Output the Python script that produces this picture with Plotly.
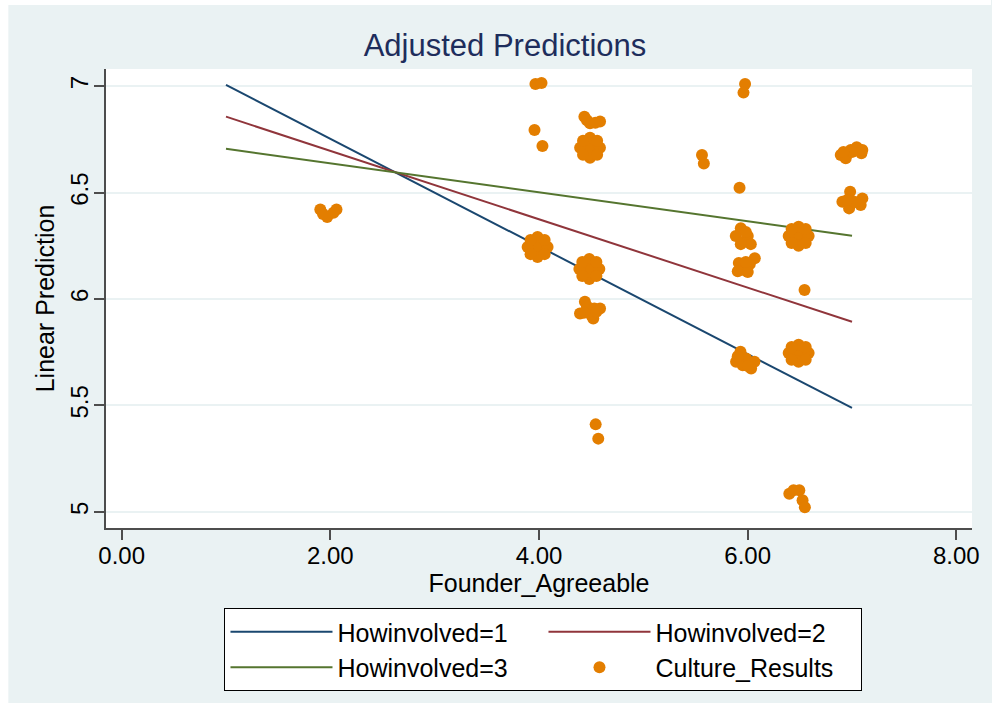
import plotly.graph_objects as go

# ---- data ----
line_x = [1.0, 7.0]
inv1_y = [7.006, 5.488]
inv2_y = [6.857, 5.893]
inv3_y = [6.706, 6.297]

culture_x = [
    # near 2.0
    1.904, 2.059, 1.970, 1.930, 2.030,
    # near 4.0 / 6.25
    3.986, 4.082, 3.891, 3.986, 3.986, 4.054, 3.919, 4.054, 3.919,
    # near 4.5 / 6.14
    4.482, 4.578, 4.387, 4.482, 4.482, 4.550, 4.415, 4.550, 4.415,
    # near 4.5 / 5.95
    4.440, 4.585, 4.393, 4.520, 4.482, 4.460, 4.530, 4.430, 4.500, 4.550,
    # top near 4.0
    3.966, 4.024,
    3.957,
    4.033,
    # near 4.5 / 6.84
    4.435, 4.489, 4.585, 4.460, 4.540,
    # near 4.5 / 6.71
    4.489, 4.584, 4.394, 4.489, 4.489, 4.557, 4.422, 4.557, 4.422,
    # near 4.55 / 5.4
    4.543, 4.568,
    # near 6.0 top
    5.975, 5.960,
    # near 5.57
    5.562, 5.580,
    5.922,
    # near 6.0 / 6.2-6.3
    5.934, 5.886, 6.001, 5.953, 6.030, 5.934, 5.982,
    6.068, 6.020, 5.915, 5.963, 5.905, 6.001, 5.982,
    # near 6.5 / 6.3
    6.488, 6.584, 6.393, 6.488, 6.488, 6.556, 6.421, 6.556, 6.421,
    6.545,
    # near 6.5 / 5.75
    6.488, 6.584, 6.393, 6.488, 6.488, 6.556, 6.421, 6.556, 6.421,
    # near 6.0 / 5.72
    5.931, 5.889, 5.985, 6.065, 6.033, 5.953, 5.905, 6.001,
    # near 6.5 / 5.05
    6.399, 6.495, 6.526, 6.548, 6.440,
    # near 7.0 / 6.69
    6.892, 6.940, 6.988, 7.045, 7.090, 7.099, 6.999, 6.918,
    # near 7.0 / 6.46
    6.982, 6.908, 7.004, 7.099, 7.083, 6.972, 7.030, 6.954,
]
culture_y = [
    6.421, 6.421, 6.386, 6.400, 6.405,
    6.244, 6.244, 6.244, 6.291, 6.197, 6.277, 6.277, 6.211, 6.211,
    6.141, 6.141, 6.141, 6.188, 6.094, 6.174, 6.174, 6.108, 6.108,
    5.987, 5.956, 5.932, 5.909, 5.948, 5.965, 5.955, 5.935, 5.925, 5.940,
    7.011, 7.015,
    6.794,
    6.719,
    6.857, 6.826, 6.834, 6.840, 6.828,
    6.711, 6.711, 6.711, 6.758, 6.664, 6.744, 6.744, 6.678, 6.678,
    5.411, 5.344,
    7.011, 6.970,
    6.677, 6.637,
    6.523,
    6.333, 6.296, 6.296, 6.268, 6.258, 6.258, 6.315,
    6.192, 6.164, 6.169, 6.136, 6.131, 6.127, 6.174,
    6.296, 6.296, 6.296, 6.340, 6.250, 6.329, 6.329, 6.263, 6.263,
    6.042,
    5.746, 5.746, 5.746, 5.785, 5.705, 5.775, 5.775, 5.715, 5.715,
    5.752, 5.705, 5.721, 5.705, 5.674, 5.689, 5.731, 5.685,
    5.085, 5.101, 5.054, 5.022, 5.101,
    6.677, 6.661, 6.700, 6.713, 6.685, 6.700, 6.691, 6.691,
    6.504, 6.457, 6.457, 6.473, 6.442, 6.426, 6.456, 6.465,
]

x_ticks = [0, 2, 4, 6, 8]
x_tick_text = ["0.00", "2.00", "4.00", "6.00", "8.00"]
y_ticks = [5, 5.5, 6, 6.5, 7]
y_tick_text = ["5", "5.5", "6", "6.5", "7"]

# ---- style ----
FONT = "Liberation Sans, Arial, sans-serif"
BG = "#EAF2F3"
NAVY = "#1A476F"
MAROON = "#90353B"
GREEN = "#55752F"
ORANGE = "#E37E00"
AXIS = "#4d4d4d"

fig = go.Figure()
fig.add_trace(go.Scatter(x=line_x, y=inv1_y, mode="lines", name="Howinvolved=1",
                         line=dict(color=NAVY, width=2)))
fig.add_trace(go.Scatter(x=line_x, y=inv2_y, mode="lines", name="Howinvolved=2",
                         line=dict(color=MAROON, width=2)))
fig.add_trace(go.Scatter(x=line_x, y=inv3_y, mode="lines", name="Howinvolved=3",
                         line=dict(color=GREEN, width=2)))
fig.add_trace(go.Scatter(x=culture_x, y=culture_y, mode="markers", name="Culture_Results",
                         marker=dict(color=ORANGE, size=12, line=dict(width=0))))

W, H = 992, 703
ml, mr, mt, mb = 106, 17, 69, 175
ph = H - mt - mb
pw = W - ml - mr

def px_to_paper_x(p):
    return (p - ml) / pw

def py_to_paper_y(p):
    return (H - mb - p) / ph

fig.update_layout(
    width=W, height=H,
    margin=dict(l=ml, r=mr, t=mt, b=mb, pad=0),
    paper_bgcolor=BG,
    plot_bgcolor="white",
    font=dict(family=FONT, size=24, color="black"),
    title=dict(text="Adjusted Predictions", x=505 / W, xanchor="center", xref="container",
               y=1 - 45 / H, yanchor="middle", yref="container",
               font=dict(family=FONT, size=31, color="#1E2D5C")),
    showlegend=True,
    legend=dict(orientation="h", x=px_to_paper_x(545), xanchor="center",
                y=py_to_paper_y(608), yanchor="top",
                bgcolor="white", bordercolor="black", borderwidth=1,
                font=dict(family=FONT, size=25, color="black"),
                entrywidth=201, entrywidthmode="pixels", itemwidth=102,
                traceorder="normal"),
    xaxis=dict(range=[-0.15, 8.15], tickmode="array", tickvals=x_ticks, ticktext=x_tick_text,
               showgrid=False, zeroline=False, showline=True, linecolor=AXIS, linewidth=1.5,
               ticks="outside", ticklen=10, tickwidth=1.5, tickcolor=AXIS,
               ticklabelstandoff=-5,
               tickfont=dict(family=FONT, size=24, color="black"),
               title=dict(text="Founder_Agreeable", standoff=6,
                          font=dict(family=FONT, size=25, color="black"))),
    yaxis=dict(range=[4.924, 7.081], tickmode="array", tickvals=y_ticks, ticktext=y_tick_text,
               tickangle=-90,
               showgrid=True, gridcolor=BG, gridwidth=2, zeroline=False,
               showline=True, linecolor=AXIS, linewidth=1.5,
               ticks="outside", ticklen=10, tickwidth=1.5, tickcolor=AXIS,
               ticklabelstandoff=-3,
               tickfont=dict(family=FONT, size=24, color="black"),
               title=dict(text="Linear Prediction", standoff=4,
                          font=dict(family=FONT, size=25, color="black"))),
    shapes=[
        dict(type="rect", xref="paper", yref="paper", layer="below",
             x0=px_to_paper_x(-2), x1=px_to_paper_x(8), y0=py_to_paper_y(H + 2), y1=py_to_paper_y(-2),
             fillcolor="white", line=dict(width=0)),
        dict(type="rect", xref="paper", yref="paper", layer="below",
             x0=px_to_paper_x(-2), x1=px_to_paper_x(W + 2), y0=py_to_paper_y(5), y1=py_to_paper_y(-2),
             fillcolor="white", line=dict(width=0)),
    ],
)

fig.write_html("out.html")
